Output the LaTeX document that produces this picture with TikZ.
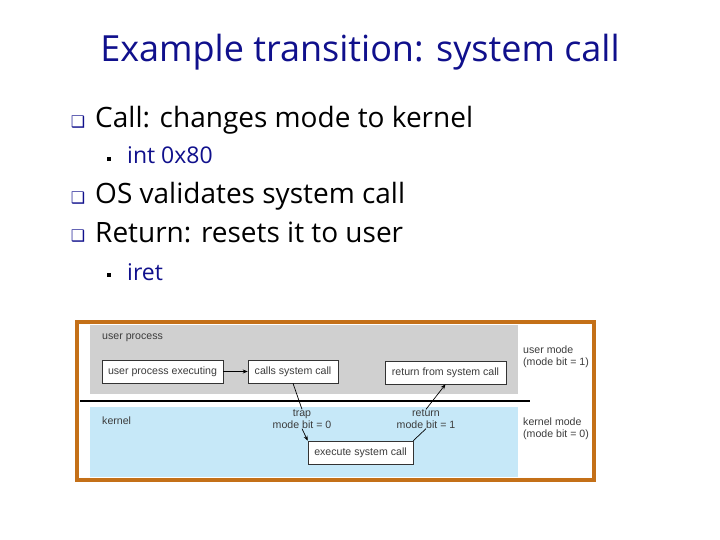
\documentclass[tikz,border=0pt]{standalone}
\usepackage{fontspec}
\setmainfont{Open Sans}
\newfontfamily\figfont{Liberation Sans}
\newfontfamily\symfont{DejaVu Sans}
\usepackage{xcolor}
\usetikzlibrary{positioning}
\usetikzlibrary{arrows.meta}

\definecolor{slideblue}{RGB}{16,16,140}
\definecolor{usergray}{RGB}{208,208,208}
\definecolor{kernelblue}{RGB}{198,232,248}
\definecolor{frameorange}{RGB}{196,112,24}
\definecolor{figtext}{RGB}{60,60,60}

\tikzset{
  slidetitle/.style={font=\fontsize{36}{40}\selectfont, text=slideblue},
  bodytext/.style={anchor=base west, inner sep=0pt, font=\fontsize{28}{32}\selectfont},
  subtext/.style={anchor=base west, inner sep=0pt, font=\fontsize{23}{26}\selectfont, text=slideblue},
  qbullet/.style={inner sep=0pt, font=\symfont\fontsize{16}{16}\selectfont, text=slideblue},
  subbullet/.style={fill=black, inner sep=0pt, minimum size=4pt},
  sysbox/.style={draw=black!80, fill=white, line width=0.6pt, inner sep=2pt,
    minimum height=23pt, font=\figfont\fontsize{10.6}{12}\selectfont, text=figtext},
  figlabel/.style={inner sep=0pt, font=\figfont\fontsize{10.6}{12}\selectfont, text=figtext},
  modearrow/.style={-{Stealth[length=5pt,width=4pt]}, black, line width=0.7pt}
}

\begin{document}
\begin{tikzpicture}[x=1pt,y=-1pt]
\useasboundingbox (0,0) rectangle (720,540);

\node (title) at (360,52) [slidetitle] {Example transition: system call};

%bullets
\node (q1) at (78,122) [qbullet] {❑};
\node (call) at (95,128) [bodytext] {Call: changes mode to kernel};
\node (s1) at (108.5,159.5) [subbullet] {};
\node (int) at (127,164) [subtext] {int 0x80};
\node (q2) at (78,198) [qbullet] {❑};
\node (os) at (95,204) [bodytext] {OS validates system call};
\node (q3) at (78,236) [qbullet] {❑};
\node (ret) at (95,242) [bodytext] {Return: resets it to user};
\node (s2) at (108.5,275) [subbullet] {};
\node (iret) at (127,280) [subtext] {iret};

%regions
\fill[white] (80,325) rectangle (592,478);
\fill[usergray] (90,325) rectangle (518,394);
\fill[kernelblue] (90,407) rectangle (518,477);
\draw[black, line width=2pt] (80,401)--(530,401);
\draw[frameorange, line width=4pt] (77,322) rectangle (594,480);

\node (userproc) at (102,338) [figlabel, anchor=west] {user process};
\node (kernel) at (102,421) [figlabel, anchor=west] {kernel};

\node (usermode) at (523,346) [figlabel, anchor=north west, align=left] {user mode\\(mode bit = 1)};
\node (kernelmode) at (523,418) [figlabel, anchor=north west, align=left] {kernel mode\\(mode bit = 0)};

%boxes
\node (executing) at (162.5,371.5) [sysbox, minimum width=121pt] {user process executing};
\node (calls) at (293,371.5) [sysbox, minimum width=90pt] {calls system call};
\node (retsys) at (445.5,372.5) [sysbox, minimum width=121pt] {return from system call};
\node (exec) at (360.5,452.5) [sysbox, minimum width=105pt] {execute system call};

\node (trap) at (302,419) [figlabel, align=center] {trap\\mode bit = 0};
\node (retlbl) at (426,419) [figlabel, align=center] {return\\mode bit = 1};

%connectors
\draw[modearrow] (executing) -- (calls);
\draw[black, line width=0.7pt] (calls.south) -- (trap.north);
\draw[modearrow] (trap.south) -- (exec.north west);
\draw[black, line width=0.7pt] (exec.north east) -- (retlbl.south);
\draw[modearrow] (retlbl.north) -- (retsys.south);

\end{tikzpicture}
\end{document}
